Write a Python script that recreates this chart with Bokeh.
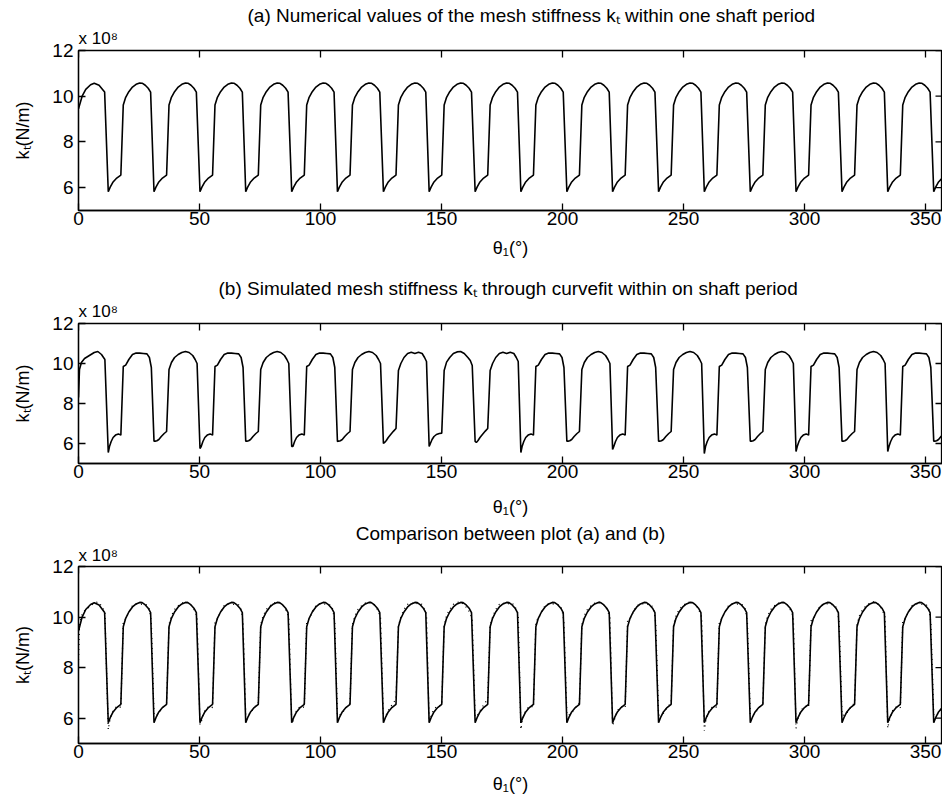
from bokeh.plotting import figure
from bokeh.models import Range1d, FixedTicker, Title
from bokeh.layouts import column
from bokeh.embed import file_html
from bokeh.resources import INLINE

FONT = "Liberation Sans"

# ---------------- data ----------------
THETA_TICKS = [0, 50, 100, 150, 200, 250, 300, 350]
K_TICKS = [6, 8, 10, 12]
K_MIN, K_MAX = 5, 12

# angle (deg) of the bottom of each tooth-pair engagement
TOOTH_BOTTOMS = [12.3, 31.2, 50.2, 69.1, 88.1, 107.0, 126.0, 144.9, 163.9,
                 182.8, 201.8, 220.7, 239.7, 258.6, 277.6, 296.5, 315.5,
                 334.4, 353.4]

# (a) numerical stiffness: leading part and one tooth profile (x 1e8 N/m)
A_START_THETA = [0.0, 1.5, 3.0, 5.0, 6.5, 8.5, 10.8]
A_START_K = [9.45, 10.0, 10.3, 10.5, 10.57, 10.48, 10.18]
A_PHASE = [0.0, 0.8, 2.0, 3.5, 5.2, 6.2, 7.2, 8.5, 10.0, 11.5, 13.0, 14.0,
           15.3, 16.5, 17.5]
A_VAL = [5.82, 6.02, 6.25, 6.42, 6.55, 9.62, 9.95, 10.2, 10.4, 10.52, 10.58,
         10.57, 10.48, 10.35, 10.18]

# (b) curve-fitted stiffness
B_START_THETA = [0.0, 0.4, 1.2, 2.5, 4.5, 6.5, 8.0, 9.5, 10.9]
B_START_K = [8.3, 9.7, 10.05, 10.25, 10.4, 10.55, 10.6, 10.45, 10.2]
B_PHASE = [0.0, 0.5, 1.2, 2.0, 3.0, 4.2, 5.2, 6.2, 7.2, 8.5, 10.0, 11.5,
           13.0, 14.5, 16.0, 17.0, 17.8]
B_PROFILE_H = [5.6, 5.85, 6.1, 6.3, 6.42, 6.48, 6.42, 9.85, 9.92, 10.2, 10.45,
               10.52, 10.52, 10.5, 10.48, 10.3, 9.8]
B_PROFILE_F = [6.12, 6.12, 6.14, 6.2, 6.35, 6.5, 6.6, 9.7, 10.05, 10.3, 10.45,
               10.55, 10.6, 10.55, 10.4, 10.2, 10.0]
B_PROFILE_S = [6.0, 6.05, 6.15, 6.3, 6.45, 6.62, 6.75, 9.65, 10.0, 10.3, 10.5,
               10.56, 10.5, 10.56, 10.5, 10.3, 10.1]
B_PROFILE_P = [5.85, 6.0, 6.2, 6.35, 6.45, 6.5, 6.52, 9.65, 10.07, 10.3, 10.5,
               10.58, 10.6, 10.5, 10.3, 10.15, 9.9]
B_TYPES = ["H", "F", "H", "F", "H", "F", "S", "P", "S", "H", "F", "H", "F",
           "H", "F", "H", "F", "H", "F"]
B_MIN = [5.55, 6.12, 5.75, 6.12, 5.85, 6.1, 6.0, 5.85, 6.1, 5.55, 6.12, 5.7,
         6.12, 5.5, 6.12, 5.6, 6.12, 5.6, 6.12]

TITLE_A = "(a) Numerical values of the mesh stiffness k\u209c within one shaft period"
TITLE_B = "(b) Simulated mesh stiffness k\u209c through curvefit within on shaft period"
TITLE_C = "Comparison between plot (a) and (b)"
SCALE_TXT = "x 10\u2078"
X_LABEL = "\u03b8\u2081(\u00b0)"
Y_LABEL = "k\u209c(N/m)"

# ---------------- build series ----------------
a_theta = list(A_START_THETA)
a_k = list(A_START_K)
for b in TOOTH_BOTTOMS:
    for ph, v in zip(A_PHASE, A_VAL):
        a_theta.append(b + ph)
        a_k.append(v)

profiles = {"H": B_PROFILE_H, "F": B_PROFILE_F, "S": B_PROFILE_S,
            "P": B_PROFILE_P}
b_theta = list(B_START_THETA)
b_k = list(B_START_K)
for b, t, mn in zip(TOOTH_BOTTOMS, B_TYPES, B_MIN):
    prof = list(profiles[t])
    prof[0] = mn
    for ph, v in zip(B_PHASE, prof):
        b_theta.append(b + ph)
        b_k.append(v)

FRAME_W = 864
PX_PER_DEG = 2.42
THETA_MAX = FRAME_W / PX_PER_DEG
TICK_PX = 7


def make_panel(frame_h, top_b, bot_b, title, title_stand, title_align,
               title_off, x10_stand, xlab_stand):
    p = figure(frame_width=FRAME_W, frame_height=frame_h,
               x_range=Range1d(0, THETA_MAX), y_range=Range1d(K_MIN, K_MAX),
               output_backend="svg", toolbar_location=None, title=None,
               min_border_left=78, min_border_right=0,
               min_border_top=top_b, min_border_bottom=bot_b)
    p.grid.visible = False
    p.outline_line_color = "black"
    p.outline_line_width = 1.3
    p.background_fill_color = "white"
    p.border_fill_color = "white"
    p.xaxis.ticker = FixedTicker(ticks=THETA_TICKS)
    p.yaxis.ticker = FixedTicker(ticks=K_TICKS)
    for ax in (p.xaxis[0], p.yaxis[0]):
        ax.major_tick_in = TICK_PX
        ax.major_tick_out = 0
        ax.minor_tick_in = 0
        ax.minor_tick_out = 0
        ax.axis_line_width = 1.3
        ax.axis_line_color = "black"
        ax.major_tick_line_width = 1.3
        ax.major_tick_line_color = "black"
        ax.major_label_text_font = FONT
        ax.major_label_text_font_size = "19px"
        ax.major_label_text_color = "black"
        ax.axis_label_text_font = FONT
        ax.axis_label_text_font_size = "18px"
        ax.axis_label_text_font_style = "normal"
        ax.axis_label_text_color = "black"
    p.xaxis.major_label_standoff = 1
    p.xaxis.axis_label = X_LABEL
    p.xaxis.axis_label_standoff = xlab_stand
    p.yaxis.major_label_standoff = 5
    p.yaxis.axis_label = Y_LABEL
    p.yaxis.axis_label_standoff = 16

    # inward ticks on the top and right edges of the box
    dy = TICK_PX * (K_MAX - K_MIN) / frame_h
    dx = TICK_PX / PX_PER_DEG
    p.segment(x0=THETA_TICKS, y0=[K_MAX] * len(THETA_TICKS),
              x1=THETA_TICKS, y1=[K_MAX - dy] * len(THETA_TICKS),
              line_color="black", line_width=1.3)
    p.segment(x0=[THETA_MAX] * len(K_TICKS), y0=K_TICKS,
              x1=[THETA_MAX - dx] * len(K_TICKS), y1=K_TICKS,
              line_color="black", line_width=1.3)

    p.add_layout(Title(text=SCALE_TXT, align="left", text_font=FONT,
                       text_font_size="17px", text_font_style="normal",
                       text_color="black", standoff=x10_stand), "above")
    p.add_layout(Title(text=title, align=title_align, text_font=FONT,
                       text_font_size="19px", text_font_style="normal",
                       text_color="black", standoff=title_stand,
                       offset=title_off), "above")
    return p


pa = make_panel(160, 50, 60, TITLE_A, -3, "left", 169, 5, 10)
pa.line(a_theta, a_k, line_color="black", line_width=1.6)

pb = make_panel(140, 53, 59, TITLE_B, -3, "left", 140, 5, 16)
pb.line(b_theta, b_k, line_color="black", line_width=1.6)

pc = make_panel(177, 41, 60, TITLE_C, -3, "center", 0, 3, 13)
pc.line(a_theta, a_k, line_color="black", line_width=1.6)
pc.line(b_theta, b_k, line_color="black", line_width=1.3, line_dash="1 4")

layout = column(pa, pb, pc, spacing=0)
open("out.html", "w").write(file_html(layout, INLINE))
